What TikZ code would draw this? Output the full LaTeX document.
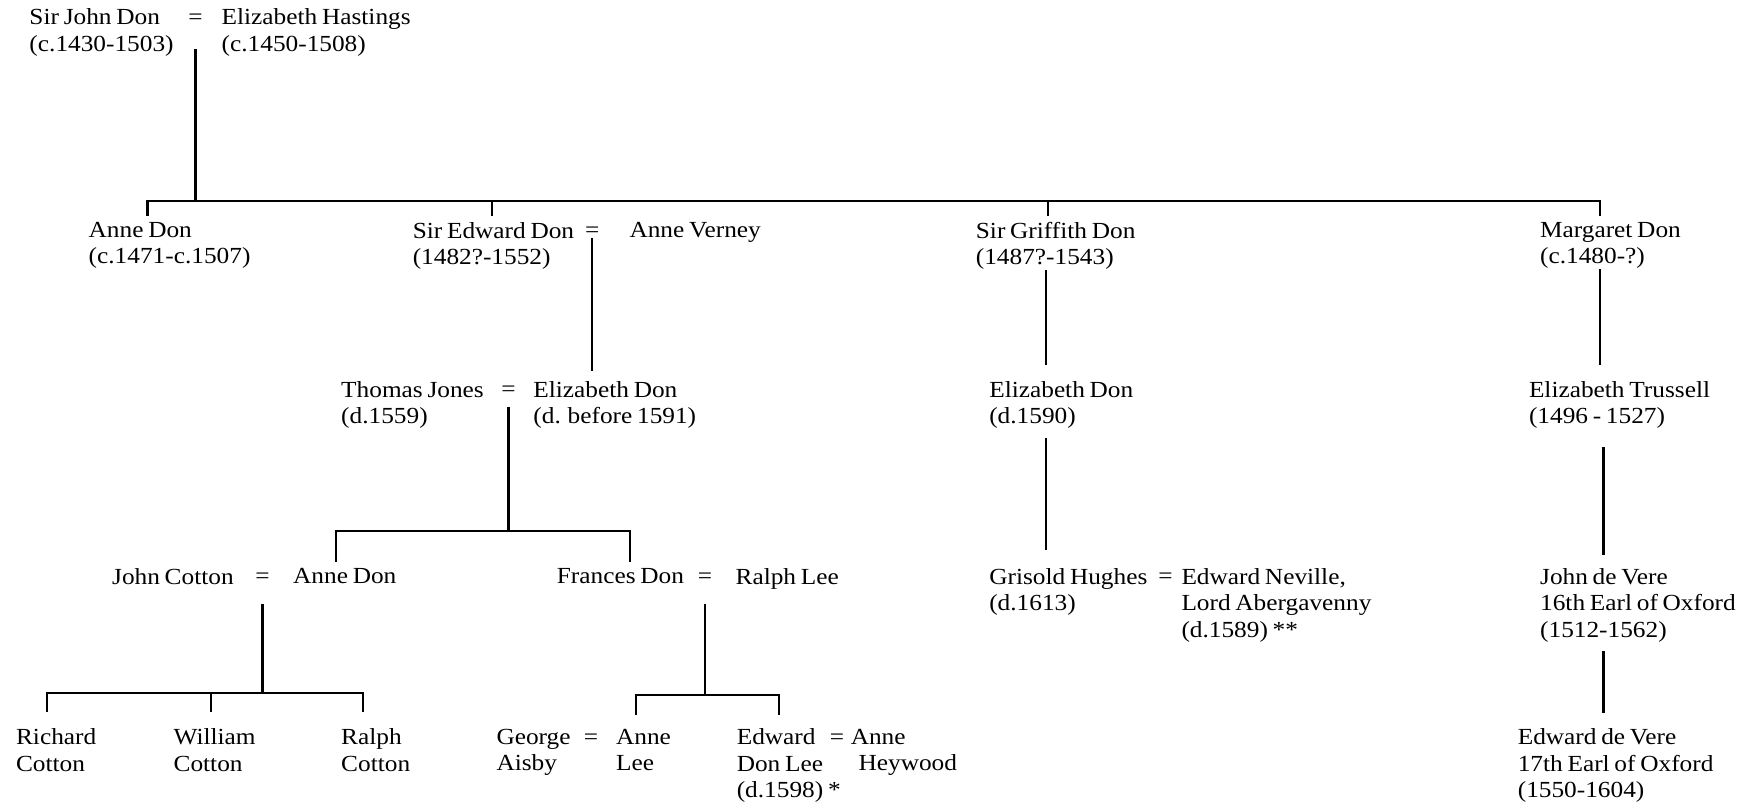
\documentclass[tikz,border=0pt]{standalone}
\usepackage{fontspec}
\setmainfont{Liberation Serif}[FakeStretch=1.1,WordSpace=0.75]
\begin{document}
\begin{tikzpicture}[
  x=0.5pt, y=-0.5pt,
  font=\fontsize{10.3}{11.75}\selectfont,
  who/.style={anchor=north west, align=left, inner sep=0pt},
  wed/.style={anchor=base, inner sep=0pt},
  line/.style={draw=black, line width=1pt}
]
  \useasboundingbox (0,0) rectangle (1568,721);
  % generation 1
  \node[who] (john) at (26,7.5) {Sir John Don\\(c.1430-1503)};
  \node[wed] (eqA) at (175,21.5) {=};
  \node[who] (hastings) at (198,7.5) {Elizabeth Hastings\\(c.1450-1508)};
  % generation 2
  \node[who] (anne) at (79,198.5) {Anne Don\\(c.1471-c.1507)};
  \node[who] (edward) at (369,198.5) {Sir Edward Don\\(1482?-1552)};
  \node[wed] (eqB) at (530,212.5) {=};
  \node[who] (verney) at (563,198.5) {Anne Verney};
  \node[who] (griffith) at (873,198.5) {Sir Griffith Don\\(1487?-1543)};
  \node[who] (margaret) at (1378,198.5) {Margaret Don\\(c.1480-?)};
  % generation 3
  \node[who] (jones) at (305,341) {Thomas Jones\\(d.1559)};
  \node[wed] (eqC) at (455,355) {=};
  \node[who] (elizabeth) at (477,341) {Elizabeth Don\\(d. before 1591)};
  \node[who] (elizabethG) at (885,341) {Elizabeth Don\\(d.1590)};
  \node[who] (trussell) at (1368,341) {Elizabeth Trussell\\(1496 - 1527)};
  % generation 4
  \node[who] (cotton) at (100,508.5) {John Cotton};
  \node[wed] (eqD) at (235,522.5) {=};
  \node[who] (anneC) at (262,508.5) {Anne Don};
  \node[who] (frances) at (498,508.5) {Frances Don};
  \node[wed] (eqE) at (631,522.5) {=};
  \node[who] (ralph) at (658,508.5) {Ralph Lee};
  \node[who] (grisold) at (885,508.5) {Grisold Hughes\\(d.1613)};
  \node[wed] (eqF) at (1043,522.5) {=};
  \node[who] (neville) at (1057,508.5) {Edward Neville,\\Lord Abergavenny\\(d.1589) **};
  \node[who] (johnV) at (1378,508.5) {John de Vere\\16th Earl of Oxford\\(1512-1562)};
  % generation 5
  \node[who] (richard) at (14,652) {Richard\\Cotton};
  \node[who] (william) at (155,652) {William\\Cotton};
  \node[who] (ralphC) at (305,652) {Ralph\\Cotton};
  \node[who] (george) at (444,652) {George\\Aisby};
  \node[wed] (eqG) at (529,666) {=};
  \node[who] (anneL) at (551,652) {Anne\\Lee};
  \node[who] (edwardL) at (659,652) {Edward\\Don Lee\\(d.1598) *};
  \node[wed] (eqH) at (749,666) {=};
  \node[who] (anneH) at (761,652) {Anne\\\hspace*{3.5pt}Heywood};
  \node[who] (edwardV) at (1358,652) {Edward de Vere\\17th Earl of Oxford\\(1550-1604)};

  % descent lines
  \draw[line] (eqA.south |- 0,44) -- (eqA.south |- 0,180);
  \draw[line] (132,193) -- (132,180) -- (1432,180) -- (1432,193);
  \foreach \x in {440,938} \draw[line] (\x,180) -- (\x,193);
  \draw[line] (eqB.south |- 0,213) -- (eqB.south |- 0,332);
  \draw[line] (griffith.south -| 936,0) -- (936,327);
  \draw[line] (margaret.south -| 1432,0) -- (1432,327);
  \draw[line] (eqC.south |- 0,364) -- (eqC.south |- 0,475);
  \draw[line] (301,503) -- (301,475) -- (564,475) -- (564,503);
  \draw[line] (936,392) -- (936,492);
  \draw[line] (1435,400) -- (1435,497);
  \draw[line] (eqD.south |- 0,541) -- (eqD.south |- 0,620);
  \draw[line] (42,637) -- (42,620) -- (325,620) -- (325,637);
  \draw[line] (189,620) -- (189,637);
  \draw[line] (eqE.south |- 0,541) -- (eqE.south |- 0,622);
  \draw[line] (569,640) -- (569,622) -- (697,622) -- (697,640);
  \draw[line] (1435,583) -- (1435,638);
\end{tikzpicture}
\end{document}
